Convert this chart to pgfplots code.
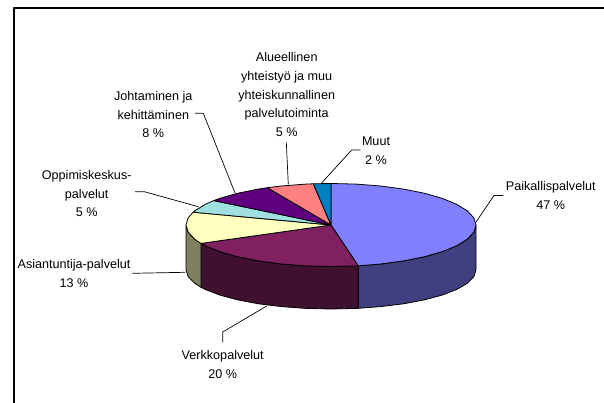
\documentclass[border=0pt]{standalone}
\usepackage{pgfplots}
\pgfplotsset{compat=1.18}
\usepackage{fontspec}
\setmainfont{Liberation Sans}
\definecolor{cA}{HTML}{8080FF}\definecolor{cAs}{HTML}{404080}
\definecolor{cB}{HTML}{802060}\definecolor{cBs}{HTML}{401030}
\definecolor{cC}{HTML}{FFFFC0}\definecolor{cCs}{HTML}{808060}
\definecolor{cD}{HTML}{A0E0E0}\definecolor{cE}{HTML}{600080}
\definecolor{cF}{HTML}{FF8080}\definecolor{cG}{HTML}{0080C0}
\tikzset{lbl/.style={font=\fontsize{12.6}{18.7}\selectfont, align=center, anchor=center, text=black, inner sep=0pt}}
\begin{document}
\begin{tikzpicture}
\begin{axis}[
  scale only axis, width=604pt, height=403pt,
  xmin=0, xmax=604, ymin=0, ymax=403, y dir=reverse,
  axis lines=none, clip=true, no markers,
  every axis plot/.append style={line join=round},
]
% page extent
\addplot[draw=none] coordinates {(0,0) (604,403)};
% frame
\addplot[black, line width=2.2pt] coordinates {(13.7,403) (13.7,8) (604,8)};
% leaders
\addplot[black, line width=0.7pt] coordinates {(503,195.5) (494,195.5) (476,222)};
\addplot[black, line width=0.7pt] coordinates {(360.7,150) (351.7,150) (320.7,184)};
\addplot[black, line width=0.7pt] coordinates {(286.3,142.3) (288.3,184.3)};
\addplot[black, line width=0.7pt] coordinates {(195,113.3) (203.3,113.3) (235,193)};
\addplot[black, line width=0.7pt] coordinates {(135,191.7) (144.3,191.7) (198.3,206.7)};
\addplot[black, line width=0.7pt] coordinates {(132.3,273.3) (185,272.3)};
\addplot[black, line width=0.7pt] coordinates {(222.7,342.3) (222.7,332) (266.7,306)};
% sides
\addplot[draw=black, line width=0.8pt, fill=cAs] coordinates {
 (476,225) (473.8,232.2) (467.3,239.2) (456.6,245.8) (442.1,251.7) (424.2,256.8) (403.5,260.9) (380.6,264.0) (358.2,265.8)
 (358.2,308.3) (380.6,306.6) (403.5,303.8) (424.2,299.9) (442.1,295.1) (456.6,289.5) (467.3,283.3) (473.8,276.8) (476,270)} --cycle;
\addplot[draw=black, line width=0.8pt, fill=cBs] coordinates {
 (358.2,265.8) (356.2,265.9) (331,266.5) (305.8,265.9) (281.4,264.0) (258.5,260.9) (237.8,256.8) (219.9,251.7) (205.4,245.8) (201,243.4)
 (201,287.3) (205.4,289.5) (219.9,295.1) (237.8,299.9) (258.5,303.8) (281.4,306.6) (305.8,308.4) (331,309) (356.2,308.4) (358.2,308.3)} --cycle;
\addplot[draw=black, line width=0.8pt, fill=cCs] coordinates {
 (201,243.4) (194.7,239.2) (188.2,232.2) (186,225)
 (186,270) (188.2,276.8) (194.7,283.3) (201,287.3)} --cycle;
% top
\addplot[draw=black, line width=0.8pt, fill=cA] coordinates {
 (331,225) (331,183.5) (356.2,184.1) (380.6,186.0) (403.5,189.1) (424.2,193.2) (442.1,198.3) (456.6,204.3) (467.3,210.8) (473.8,217.8) (476,225)
 (473.8,232.2) (467.3,239.2) (456.6,245.8) (442.1,251.7) (424.2,256.8) (403.5,260.9) (380.6,264.0) (358.2,265.8)} --cycle;
\addplot[draw=black, line width=0.8pt, fill=cB] coordinates {
 (331,225) (358.2,265.8) (356.2,265.9) (331,266.5) (305.8,265.9) (281.4,264.0) (258.5,260.9) (237.8,256.8) (219.9,251.7) (205.4,245.8) (201,243.4)} --cycle;
\addplot[draw=black, line width=0.8pt, fill=cC] coordinates {
 (331,225) (201,243.4) (194.7,239.2) (188.2,232.2) (186,225) (188.2,217.8) (193.1,212.2)} --cycle;
\addplot[draw=black, line width=0.8pt, fill=cD] coordinates {
 (331,225) (193.1,212.2) (194.7,210.8) (205.4,204.3) (213.7,200.6)} --cycle;
\addplot[draw=black, line width=0.8pt, fill=cE] coordinates {
 (331,225) (213.7,200.6) (219.9,198.3) (237.8,193.2) (258.5,189.1) (267.4,187.7)} --cycle;
\addplot[draw=black, line width=0.8pt, fill=cF] coordinates {
 (331,225) (267.4,187.7) (281.4,186.0) (305.8,184.1) (313.3,183.8)} --cycle;
\addplot[draw=black, line width=0.8pt, fill=cG] coordinates {
 (331,225) (313.3,183.8) (331,183.5)} --cycle;
% labels
\node[lbl] at (axis cs:550.8,195.5) {Paikallispalvelut\\47 \%};
\node[lbl] at (axis cs:376,151) {Muut\\2 \%};
\node[lbl] at (axis cs:286.7,94.5) {Alueellinen\\yhteistyö ja muu\\yhteiskunnallinen\\palvelutoiminta\\5 \%};
\node[lbl] at (axis cs:153.3,114.5) {Johtaminen ja\\kehittäminen\\8 \%};
\node[lbl] at (axis cs:86.7,193.5) {Oppimiskeskus-\\palvelut\\5 \%};
\node[lbl] at (axis cs:74,273.7) {Asiantuntija-palvelut\\13 \%};
\node[lbl] at (axis cs:222.7,364.5) {Verkkopalvelut\\20 \%};
\end{axis}
\path (current axis.south west) rectangle (current axis.north east);
\end{tikzpicture}
\end{document}
